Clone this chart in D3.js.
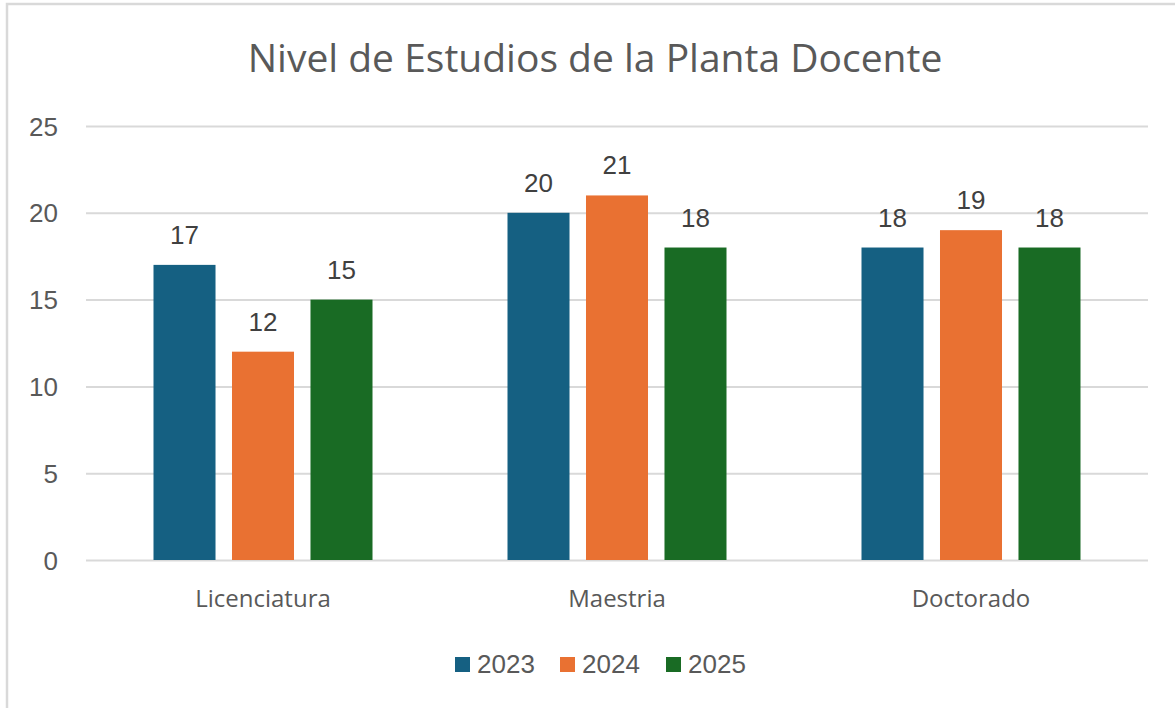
<!DOCTYPE html>
<html>
<head>
<meta charset="utf-8">
<script src="https://cdn.jsdelivr.net/npm/d3@7"></script>
<style>
  html, body { margin: 0; padding: 0; background: #fff; }
  svg { display: block; }
</style>
</head>
<body>
<svg id="chart" width="1175" height="708"></svg>
<script>
const title = "Nivel de Estudios de la Planta Docente";
const categories = ["Licenciatura", "Maestria", "Doctorado"];
const seriesNames = ["2023", "2024", "2025"];
const values2023 = [17, 20, 18];
const values2024 = [12, 21, 19];
const values2025 = [15, 18, 18];
const yTicks = [0, 5, 10, 15, 20, 25];
const colors = ["#156082", "#E97132", "#196B24"];

const seriesValues = [values2023, values2024, values2025];
const data = categories.map((c, i) => ({
  category: c,
  values: seriesNames.map((s, j) => ({ series: s, value: seriesValues[j][i], color: colors[j] }))
}));

const svg = d3.select("#chart");
const W = 1175, H = 708;
const plot = { left: 86, right: 1148, top: 126, bottom: 560 };

svg.append("rect").attr("width", W).attr("height", H).attr("fill", "#fff");
// frame (top & left visible)
svg.append("path")
  .attr("d", `M7,${H} L7,4 L${W},4`)
  .attr("fill", "none").attr("stroke", "#d9d9d9").attr("stroke-width", 2.5);

const y = d3.scaleLinear().domain([0, 25]).range([plot.bottom, plot.top]);
const x0 = d3.scaleBand().domain(categories).range([plot.left, plot.right]).paddingInner(0).paddingOuter(0);
const innerW = 219;
const x1 = d3.scaleBand().domain(seriesNames).range([0, innerW]).paddingInner(0.21).paddingOuter(0);

// gridlines
const yAxis = d3.axisLeft(y).tickValues(yTicks).tickSize(-(plot.right - plot.left)).tickPadding(28);
const gy = svg.append("g").attr("transform", `translate(${plot.left},0)`).call(yAxis);
gy.select(".domain").remove();
gy.selectAll(".tick line").attr("stroke", "#d9d9d9").attr("stroke-width", 2);
gy.selectAll(".tick text")
  .attr("fill", "#595959")
  .style("font-family", "'Liberation Sans', Arial, sans-serif")
  .style("font-size", "26px")
  .attr("dy", "0.35em");

// bars
const groups = svg.append("g").selectAll("g").data(data).join("g")
  .attr("transform", d => `translate(${x0(d.category) + (x0.bandwidth() - innerW) / 2},0)`);

groups.selectAll("rect").data(d => d.values).join("rect")
  .attr("x", d => x1(d.series))
  .attr("y", d => y(d.value))
  .attr("width", x1.bandwidth())
  .attr("height", d => y(0) - y(d.value))
  .attr("fill", d => d.color);

groups.selectAll("text").data(d => d.values).join("text")
  .attr("x", d => x1(d.series) + x1.bandwidth() / 2)
  .attr("y", d => y(d.value) - 21)
  .attr("text-anchor", "middle")
  .attr("fill", "#404040")
  .style("font-family", "'Liberation Sans', Arial, sans-serif")
  .style("font-size", "26px")
  .text(d => d.value);

// category labels
const xAxis = d3.axisBottom(x0).tickSize(0).tickPadding(0);
const gx = svg.append("g").attr("transform", `translate(0,${plot.bottom})`).call(xAxis);
gx.select(".domain").remove();
gx.selectAll(".tick text")
  .attr("y", 47).attr("dy", 0)
  .attr("fill", "#595959")
  .style("font-family", "'Open Sans', sans-serif")
  .style("font-size", "24px");

// title
svg.append("text")
  .attr("x", 595).attr("y", 72)
  .attr("text-anchor", "middle")
  .attr("fill", "#595959")
  .style("font-family", "'Open Sans', sans-serif")
  .style("font-size", "39px")
  .text(title);

// legend
const legendX = [455, 560, 666];
const lg = svg.append("g").selectAll("g").data(seriesNames).join("g")
  .attr("transform", (d, i) => `translate(${legendX[i]},657)`);
lg.append("rect").attr("width", 15).attr("height", 15).attr("fill", (d, i) => colors[i]);
lg.append("text")
  .attr("x", 22).attr("y", 16)
  .attr("fill", "#595959")
  .style("font-family", "'Liberation Sans', Arial, sans-serif")
  .style("font-size", "26px")
  .text(d => d);
</script>
</body>
</html>
